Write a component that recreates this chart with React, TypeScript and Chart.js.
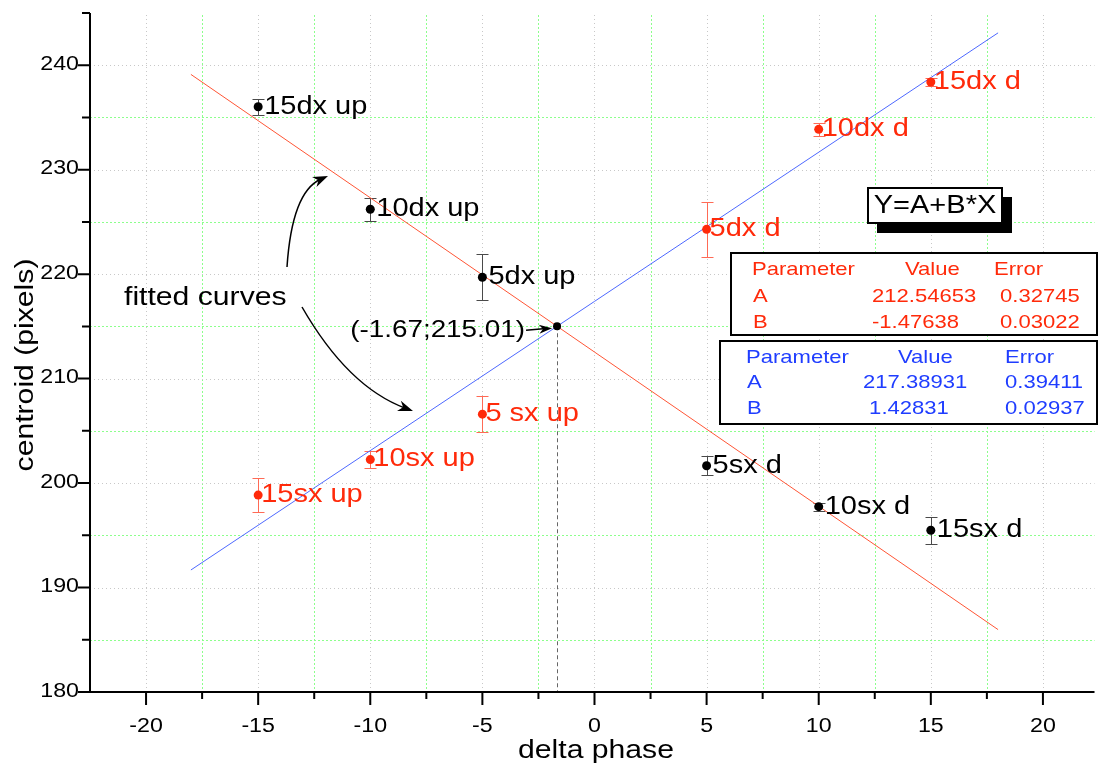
import React, { useEffect, useRef } from 'react';
import { Chart, registerables } from 'chart.js';

Chart.register(...registerables);

// Phase offsets of the measurements
const phases = [-15, -10, -5, 5, 10, 15];

// Black series ("dx up" / "sx d")
const blackLabels = ['15dx up', '10dx up', '5dx up', '5sx d', '10sx d', '15sx d'];
const blackValues = [236.03, 226.21, 219.7, 201.66, 197.74, 195.48];
const blackErrors = [0.77, 1.08, 2.2, 0.93, 0.37, 1.3];

// Red series ("sx up" / "dx d")
const redLabels = ['15sx up', '10sx up', '5 sx up', '5dx d', '10dx d', '15dx d'];
const redValues = [198.85, 202.25, 206.6, 224.29, 233.86, 238.39];
const redErrors = [1.66, 0.8, 1.72, 2.63, 0.64, 0.42];

// Linear fits Y = A + B*X : [A, B] and their errors
const redFitParams = [212.54653, -1.47638];
const redFitErrors = [0.32745, 0.03022];
const blueFitParams = [217.38931, 1.42831];
const blueFitErrors = [0.39411, 0.02937];
const fitRange = [-18, 18];

// Crossing of the two fitted lines
const crossing = [-1.67, 215.01];

// Axis ticks
const xMajorTicks = [-20, -15, -10, -5, 0, 5, 10, 15, 20];
const xMinorTicks = [-17.5, -12.5, -7.5, -2.5, 2.5, 7.5, 12.5, 17.5];
const yMajorTicks = [180, 190, 200, 210, 220, 230, 240];
const yMinorTicks = [185, 195, 205, 215, 225, 235, 245];

const X_MIN = -22.5;
const X_MAX = 22.3;
const Y_MIN = 180;
const Y_MAX = 245;

const FONT = '"Liberation Sans", Arial, Helvetica, sans-serif';
const STRETCH = 1.16;
const RED = '#ff2a0a';
const BLUE = '#1f3dff';
const RED_LINE = '#ff5535';
const BLUE_LINE = '#4d68ff';

type Align = 'left' | 'right' | 'center';

function drawText(
  ctx: CanvasRenderingContext2D,
  s: string,
  x: number,
  y: number,
  size: number,
  color: string,
  align: Align = 'left',
  baseline: CanvasTextBaseline = 'middle',
  rot = 0
) {
  ctx.save();
  ctx.translate(x, y);
  if (rot) ctx.rotate(rot);
  ctx.scale(STRETCH, 1);
  ctx.font = `${size}px ${FONT}`;
  ctx.fillStyle = color;
  ctx.textAlign = align;
  ctx.textBaseline = baseline;
  ctx.fillText(s, 0, 0);
  ctx.restore();
}

function arrowHead(
  ctx: CanvasRenderingContext2D,
  tx: number,
  ty: number,
  angle: number,
  len: number,
  half: number
) {
  const c = Math.cos(angle);
  const s = Math.sin(angle);
  const bx = tx - len * c;
  const by = ty - len * s;
  const ix = tx - len * 0.7 * c;
  const iy = ty - len * 0.7 * s;
  ctx.beginPath();
  ctx.moveTo(tx, ty);
  ctx.lineTo(bx - half * s, by + half * c);
  ctx.lineTo(ix, iy);
  ctx.lineTo(bx + half * s, by - half * c);
  ctx.closePath();
  ctx.fill();
}

function curvedArrow(
  ctx: CanvasRenderingContext2D,
  sx: number,
  sy: number,
  cx: number,
  cy: number,
  ex: number,
  ey: number
) {
  const ang = Math.atan2(ey - cy, ex - cx);
  ctx.save();
  ctx.strokeStyle = '#000';
  ctx.fillStyle = '#000';
  ctx.lineWidth = 1.5;
  ctx.beginPath();
  ctx.moveTo(sx, sy);
  ctx.quadraticCurveTo(cx, cy, ex - 8 * Math.cos(ang), ey - 8 * Math.sin(ang));
  ctx.stroke();
  arrowHead(ctx, ex, ey, ang, 15, 5.5);
  ctx.restore();
}

function fmt(v: number) {
  return (v < 0 || Math.abs(v) >= 100 ? '' : ' ') + v.toFixed(5);
}

function drawTable(
  ctx: CanvasRenderingContext2D,
  box: number[],
  color: string,
  headX: number[],
  valX: number[],
  rowsY: number[],
  params: number[],
  errors: number[]
) {
  ctx.save();
  ctx.fillStyle = '#fff';
  ctx.fillRect(box[0], box[1], box[2] - box[0], box[3] - box[1]);
  ctx.strokeStyle = '#000';
  ctx.lineWidth = 2;
  ctx.strokeRect(box[0], box[1], box[2] - box[0], box[3] - box[1]);
  ctx.restore();
  const size = 19;
  drawText(ctx, 'Parameter', headX[0], rowsY[0], size, color);
  drawText(ctx, 'Value', headX[1], rowsY[0], size, color);
  drawText(ctx, 'Error', headX[2], rowsY[0], size, color);
  const names = ['A', 'B'];
  for (let i = 0; i < 2; i++) {
    drawText(ctx, names[i], valX[0], rowsY[i + 1], size, color);
    drawText(ctx, fmt(params[i]), valX[1], rowsY[i + 1], size, color);
    drawText(ctx, errors[i].toFixed(5), valX[2], rowsY[i + 1], size, color);
  }
}

const gridPlugin = {
  id: 'originGrid',
  beforeDatasetsDraw(chart: any) {
    const { ctx, chartArea: a, scales } = chart;
    const xs = scales.x;
    const ys = scales.y;
    ctx.save();
    ctx.lineWidth = 1;
    const vline = (v: number, color: string, dash: number[]) => {
      const px = Math.round(xs.getPixelForValue(v)) + 0.5;
      ctx.strokeStyle = color;
      ctx.setLineDash(dash);
      ctx.beginPath();
      ctx.moveTo(px, a.top + 2);
      ctx.lineTo(px, a.bottom);
      ctx.stroke();
    };
    const hline = (v: number, color: string, dash: number[]) => {
      const py = Math.round(ys.getPixelForValue(v)) + 0.5;
      ctx.strokeStyle = color;
      ctx.setLineDash(dash);
      ctx.beginPath();
      ctx.moveTo(a.left, py);
      ctx.lineTo(a.right, py);
      ctx.stroke();
    };
    xMajorTicks.forEach((v) => vline(v, '#c8c8c8', [1, 3]));
    xMinorTicks.forEach((v) => vline(v, '#8cff8c', [2, 2]));
    yMajorTicks.filter((v) => v > Y_MIN).forEach((v) => hline(v, '#c8c8c8', [1, 3]));
    yMinorTicks.filter((v) => v < Y_MAX).forEach((v) => hline(v, '#8cff8c', [2, 2]));
    ctx.setLineDash([]);

    // dashed drop line from the crossing point to the x axis
    const cx = xs.getPixelForValue(crossing[0]);
    const cy = ys.getPixelForValue(crossing[1]);
    ctx.strokeStyle = '#666';
    ctx.setLineDash([4, 3]);
    ctx.beginPath();
    ctx.moveTo(Math.round(cx) + 0.5, cy);
    ctx.lineTo(Math.round(cx) + 0.5, a.bottom);
    ctx.stroke();
    ctx.setLineDash([]);

    // error bars
    const bars = (vals: number[], errs: number[], color: string) => {
      ctx.strokeStyle = color;
      ctx.lineWidth = 1;
      phases.forEach((p, i) => {
        const px = Math.round(xs.getPixelForValue(p)) + 0.5;
        const top = Math.round(ys.getPixelForValue(vals[i] + errs[i])) + 0.5;
        const bot = Math.round(ys.getPixelForValue(vals[i] - errs[i])) + 0.5;
        ctx.beginPath();
        ctx.moveTo(px, top);
        ctx.lineTo(px, bot);
        ctx.moveTo(px - 6, top);
        ctx.lineTo(px + 6, top);
        ctx.moveTo(px - 6, bot);
        ctx.lineTo(px + 6, bot);
        ctx.stroke();
      });
    };
    bars(blackValues, blackErrors, '#4a4a4a');
    bars(redValues, redErrors, '#ff6a55');
    ctx.restore();
  },
  afterDraw(chart: any) {
    const { ctx, chartArea: a, scales } = chart;
    const xs = scales.x;
    const ys = scales.y;
    ctx.save();

    // axes
    ctx.strokeStyle = '#000';
    ctx.lineWidth = 2;
    ctx.beginPath();
    ctx.moveTo(a.left, a.top);
    ctx.lineTo(a.left, a.bottom);
    ctx.lineTo(a.right, a.bottom);
    ctx.stroke();

    // tick marks
    ctx.lineWidth = 2;
    ctx.beginPath();
    xMajorTicks.forEach((v) => {
      const px = xs.getPixelForValue(v);
      ctx.moveTo(px, a.bottom);
      ctx.lineTo(px, a.bottom + 13);
    });
    xMinorTicks.forEach((v) => {
      const px = xs.getPixelForValue(v);
      ctx.moveTo(px, a.bottom);
      ctx.lineTo(px, a.bottom + 7);
    });
    yMajorTicks.forEach((v) => {
      const py = ys.getPixelForValue(v);
      ctx.moveTo(a.left, py);
      ctx.lineTo(a.left - 12, py);
    });
    yMinorTicks.forEach((v) => {
      const py = ys.getPixelForValue(v);
      ctx.moveTo(a.left, py);
      ctx.lineTo(a.left - 8, py);
    });
    ctx.stroke();
    ctx.restore();

    // tick labels
    xMajorTicks.forEach((v) => {
      drawText(ctx, String(v), xs.getPixelForValue(v), a.bottom + 34, 20, '#000', 'center');
    });
    yMajorTicks.forEach((v) => {
      drawText(ctx, String(v), a.left - 11, ys.getPixelForValue(v) - 1, 20, '#000', 'right');
    });

    // axis titles
    drawText(ctx, 'delta phase', 596, 758, 26, '#000', 'center', 'alphabetic');
    drawText(ctx, 'centroid (pixels)', 33, 365, 26, '#000', 'center', 'alphabetic', -Math.PI / 2);

    // point labels
    phases.forEach((p, i) => {
      drawText(ctx, blackLabels[i], xs.getPixelForValue(p) + 6, ys.getPixelForValue(blackValues[i]), 25, '#000');
      drawText(ctx, redLabels[i], xs.getPixelForValue(p) + 3, ys.getPixelForValue(redValues[i]), 25, RED);
    });

    // crossing annotation
    const cx = xs.getPixelForValue(crossing[0]);
    const cy = ys.getPixelForValue(crossing[1]);
    drawText(
      ctx,
      `(${crossing[0].toFixed(2)};${crossing[1].toFixed(2)})`,
      cx - 32,
      cy + 4,
      24,
      '#000',
      'right'
    );
    ctx.save();
    ctx.strokeStyle = '#000';
    ctx.fillStyle = '#000';
    ctx.lineWidth = 1.5;
    ctx.beginPath();
    ctx.moveTo(cx - 31, cy + 4);
    ctx.lineTo(cx - 14, cy + 2.5);
    ctx.stroke();
    arrowHead(ctx, cx - 5, cy + 2, Math.atan2(-2, 26), 13, 4.5);
    ctx.restore();

    // "fitted curves" with curved arrows
    drawText(ctx, 'fitted curves', 124, 298, 26, '#000');
    curvedArrow(ctx, 287, 267, 292, 192, 328, 176);
    curvedArrow(ctx, 302, 307, 348, 387, 413, 411);

    // equation box with shadow
    ctx.save();
    ctx.fillStyle = '#000';
    ctx.fillRect(877, 197, 135, 36);
    ctx.fillStyle = '#fff';
    ctx.fillRect(868, 188, 134, 35);
    ctx.strokeStyle = '#000';
    ctx.lineWidth = 2;
    ctx.strokeRect(868, 188, 134, 35);
    ctx.restore();
    drawText(ctx, 'Y=A+B*X', 935, 206, 25, '#000', 'center');

    // fit parameter tables
    drawTable(ctx, [731, 253, 1097, 335], RED, [752, 905, 994], [753, 872, 1000], [270, 297, 323], redFitParams, redFitErrors);
    drawTable(ctx, [720, 341, 1097, 424], BLUE, [746, 898, 1005], [747, 863, 1005], [358, 383, 409], blueFitParams, blueFitErrors);
  },
};

function fitLine(params: number[]) {
  return fitRange.map((x) => ({ x, y: params[0] + params[1] * x }));
}

export default function App() {
  const canvasRef = useRef<HTMLCanvasElement | null>(null);

  useEffect(() => {
    const canvas = canvasRef.current;
    if (!canvas) return;
    const chart = new Chart(canvas, {
      type: 'scatter',
      data: {
        datasets: [
          {
            label: 'crossing',
            data: [{ x: crossing[0], y: crossing[1] }],
            pointRadius: 4,
            pointBackgroundColor: '#000',
            pointBorderWidth: 0,
          },
          {
            label: 'black',
            data: phases.map((x, i) => ({ x, y: blackValues[i] })),
            pointRadius: 4.5,
            pointBackgroundColor: '#000',
            pointBorderWidth: 0,
          },
          {
            label: 'red',
            data: phases.map((x, i) => ({ x, y: redValues[i] })),
            pointRadius: 4.5,
            pointBackgroundColor: RED,
            pointBorderWidth: 0,
          },
          {
            label: 'red fit',
            data: fitLine(redFitParams),
            showLine: true,
            pointRadius: 0,
            borderColor: RED_LINE,
            borderWidth: 1,
          },
          {
            label: 'blue fit',
            data: fitLine(blueFitParams),
            showLine: true,
            pointRadius: 0,
            borderColor: BLUE_LINE,
            borderWidth: 1,
          },
        ],
      },
      options: {
        responsive: false,
        animation: false,
        devicePixelRatio: 1,
        events: [],
        layout: { padding: { left: 90, top: 13, right: 0, bottom: 72 } },
        plugins: {
          legend: { display: false },
          tooltip: { enabled: false },
        },
        scales: {
          x: { type: 'linear', min: X_MIN, max: X_MAX, display: false },
          y: { type: 'linear', min: Y_MIN, max: Y_MAX, display: false },
        },
      },
      plugins: [gridPlugin],
    });
    return () => chart.destroy();
  }, []);

  return (
    <div style={{ position: 'absolute', left: 0, top: 0, width: 1099, height: 764, background: '#fff' }}>
      <canvas ref={canvasRef} width={1099} height={764} style={{ display: 'block' }} />
    </div>
  );
}
